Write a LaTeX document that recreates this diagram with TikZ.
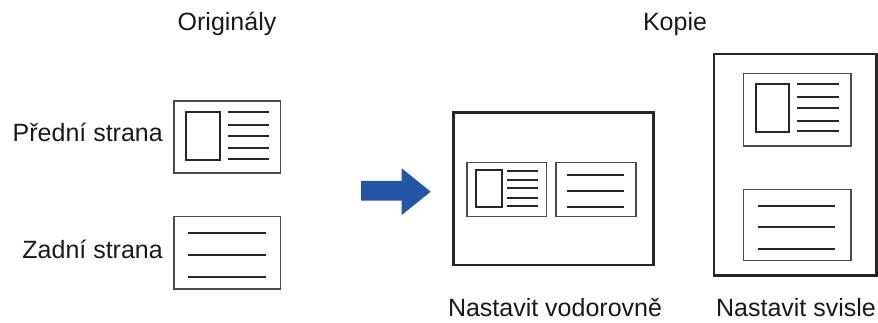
\documentclass[tikz,border=0pt]{standalone}
\usepackage{fontspec}
\setmainfont{Liberation Sans}
\begin{document}
\begin{tikzpicture}[x=1pt,y=-1pt,
  lbl/.style={inner sep=0pt,font=\fontsize{25}{30}\selectfont,text=black!90},
  card/.style={draw=black!70,line width=1.2pt,fill=white},
  page/.style={draw=black!85,line width=2.6pt},
  photo/.style={draw=black!85,line width=2.3pt},
  txtline/.style={draw=black!85,line width=2.2pt},
  arrowfill/.style={fill=arrowblue,draw=none}]
\definecolor{arrowblue}{HTML}{2456A6}
\useasboundingbox (0,0) rectangle (878,323);
% titles
\node[lbl,anchor=base] (orig) at (227,30.7) {Originály};
\node[lbl,anchor=base] (kopie) at (675,30.7) {Kopie};
\node[lbl,anchor=base east] (front) at (163,141.7) {Přední strana};
\node[lbl,anchor=base east] (back) at (163,258.5) {Zadní strana};
\node[lbl,anchor=base] (horiz) at (555,316.7) {Nastavit vodorovně};
\node[lbl,anchor=base] (vert) at (796,316.7) {Nastavit svisle};
% original front
\draw[card] (174,101) rectangle (280.7,173);
\draw[photo] (186,111.7) rectangle (220,159.7);
\foreach \y in {111.7,125,135.7,147.7,159}
  \draw[txtline] (227.7,\y) -- (269,\y);
% original back
\draw[card] (174,216.7) rectangle (280.7,289);
\foreach \y in {232.7,255,276.7}
  \draw[txtline] (188.3,\y) -- (266,\y);
% arrow
\fill[arrowfill] (361,181) -- (401.7,181) -- (401.7,168.3) -- (430.7,191.7)
  -- (401.7,215) -- (401.7,200.7) -- (361,200.7) -- cycle;
% horizontal page
\draw[page] (453.7,112.3) rectangle (653.3,265);
\draw[card] (467,162.7) rectangle (546.7,216.7);
\draw[photo] (476,170) rectangle (502.3,206.7);
\foreach \y in {170.7,180,188.3,197.7,206}
  \draw[txtline] (506.7,\y) -- (537.7,\y);
\draw[card] (556,162.7) rectangle (636,216.7);
\foreach \y in {175.3,191,207.3}
  \draw[txtline] (567,\y) -- (624.3,\y);
% vertical page
\draw[page] (714,54) rectangle (876.7,275.7);
\draw[card] (743.3,73.3) rectangle (851,146);
\draw[photo] (755.7,84) rectangle (789.3,132.3);
\foreach \y in {84,96.7,107.7,120.7,131}
  \draw[txtline] (797,\y) -- (839,\y);
\draw[card] (743.3,189.3) rectangle (851,260.7);
\foreach \y in {205.7,226.7,249}
  \draw[txtline] (758.3,\y) -- (835,\y);
\end{tikzpicture}
\end{document}
